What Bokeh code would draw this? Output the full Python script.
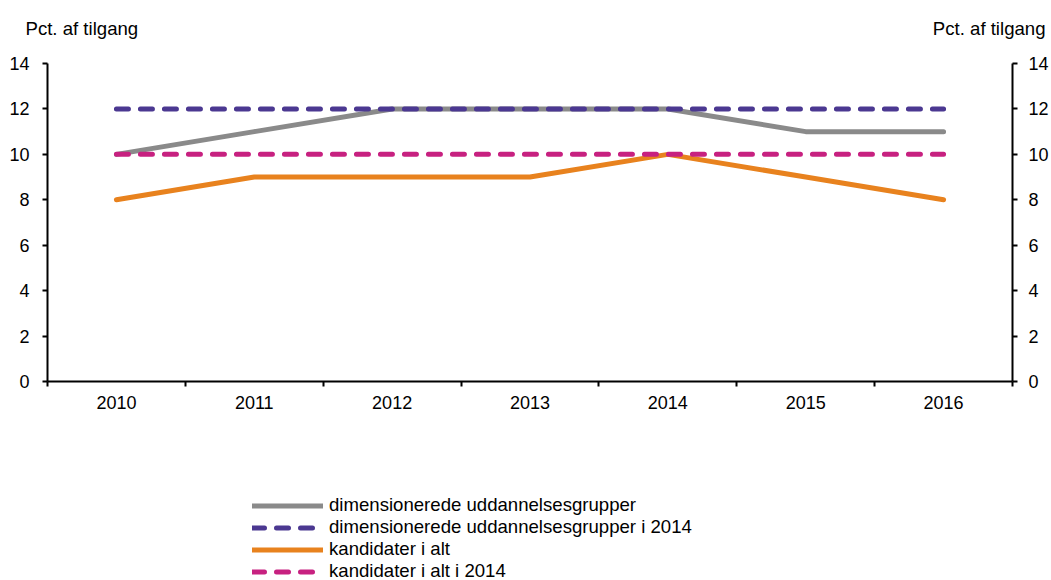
from bokeh.plotting import figure
from bokeh.layouts import column
from bokeh.models import (Range1d, LinearAxis, FixedTicker, Legend, LegendItem, Label)
from bokeh.embed import file_html
from bokeh.resources import INLINE

years = [2010, 2011, 2012, 2013, 2014, 2015, 2016]
year_labels = ["2010", "2011", "2012", "2013", "2014", "2015", "2016"]
dim_groups = [10, 11, 12, 12, 12, 11, 11]
dim_groups_2014 = [12, 12, 12, 12, 12, 12, 12]
cand_total = [8, 9, 9, 9, 10, 9, 8]
cand_total_2014 = [10, 10, 10, 10, 10, 10, 10]
y_ticks = [0, 2, 4, 6, 8, 10, 12, 14]
y_title = "Pct. af tilgang"
series_names = ["dimensionerede uddannelsesgrupper",
                "dimensionerede uddannelsesgrupper i 2014",
                "kandidater i alt",
                "kandidater i alt i 2014"]

FONT = "Liberation Sans"
FS = "18px"
FS_LEG = "18.6px"
W = 1051
HEAD_H = 50
MAIN_H = 375
LEG_H = 155

# header with the two axis titles
head = figure(width=W, height=HEAD_H, output_backend="svg", toolbar_location=None,
              x_range=Range1d(0, W), y_range=Range1d(0, HEAD_H),
              x_axis_type=None, y_axis_type=None, min_border=0,
              outline_line_color=None, frame_align=False)
head.grid.visible = False
head.add_layout(Label(x=25, y=HEAD_H - 28, text=y_title, text_align="left",
                      text_baseline="middle", text_font=FONT, text_font_size=FS_LEG,
                      text_color="black"))
head.add_layout(Label(x=1045, y=HEAD_H - 28, text=y_title, text_align="right",
                      text_baseline="middle", text_font=FONT, text_font_size=FS_LEG,
                      text_color="black"))

p = figure(width=W, height=MAIN_H, output_backend="svg", toolbar_location=None,
           x_range=Range1d(2009.5, 2016.5), y_range=Range1d(0, 14),
           min_border_left=47, min_border_right=36, min_border_top=63 - HEAD_H,
           min_border_bottom=HEAD_H + MAIN_H - 381, outline_line_color=None,
           frame_align=False)
p.grid.visible = False

# x axis
xa = p.xaxis[0]
xa.ticker = FixedTicker(ticks=years, minor_ticks=[y - 0.5 for y in years] + [years[-1] + 0.5])
xa.major_label_overrides = {y: l for y, l in zip(years, year_labels)}
xa.major_tick_out = 0
xa.major_tick_in = 0
xa.minor_tick_out = 5
xa.minor_tick_in = 0
xa.minor_tick_line_width = 2
xa.minor_tick_line_color = "black"
xa.axis_line_width = 2
xa.axis_line_color = "black"
xa.major_label_standoff = 9
xa.major_label_text_font = FONT
xa.major_label_text_font_size = FS
xa.major_label_text_color = "black"

# left y axis
ya = p.yaxis[0]
ya.ticker = FixedTicker(ticks=y_ticks, minor_ticks=[])
ya.major_tick_out = 5
ya.major_tick_in = 0
ya.major_tick_line_width = 2
ya.axis_line_width = 2
ya.axis_line_color = "black"
ya.major_tick_line_color = "black"
ya.major_label_standoff = 13
ya.major_label_text_font = FONT
ya.major_label_text_font_size = FS
ya.major_label_text_color = "black"

# right y axis
ra = LinearAxis(ticker=FixedTicker(ticks=y_ticks, minor_ticks=[]))
ra.major_tick_out = 5
ra.major_tick_in = 0
ra.major_tick_line_width = 2
ra.axis_line_width = 2
ra.axis_line_color = "black"
ra.major_tick_line_color = "black"
ra.major_label_standoff = 11
ra.major_label_text_font = FONT
ra.major_label_text_font_size = FS
ra.major_label_text_color = "black"
p.add_layout(ra, "right")

colors = ["#8a8a8a", "#4b3891", "#e8821e", "#c72180"]
data = [dim_groups, dim_groups_2014, cand_total, cand_total_2014]
dashes = ["solid", "12 12", "solid", "12 12"]
order = [0, 2, 1, 3]
for i in order:
    p.line(years, data[i], line_color=colors[i], line_width=5,
           line_dash=dashes[i], line_cap="round", line_join="round")

# legend panel below (legend glyphs come from the same series, drawn out of view)
leg = figure(width=W, height=LEG_H, output_backend="svg", toolbar_location=None,
             x_range=Range1d(0, 1), y_range=Range1d(0, 1),
             x_axis_type=None, y_axis_type=None, min_border=0,
             outline_line_color=None, frame_align=False)
leg.grid.visible = False
proxies = [leg.line(years, data[i], line_color=colors[i], line_width=5,
                    line_dash=dashes[i], line_cap="round") for i in range(4)]
items = [LegendItem(label=series_names[i], renderers=[proxies[i]]) for i in range(4)]
legend = Legend(items=items, location=(252, -2), orientation="vertical",
                glyph_width=71, glyph_height=21, label_height=21, label_standoff=6,
                spacing=0, padding=0, margin=0, border_line_alpha=0,
                background_fill_alpha=0, label_text_font=FONT,
                label_text_font_size=FS_LEG, label_text_color="black")
leg.add_layout(legend, "center")

layout = column(head, p, leg, spacing=0)
open("out.html", "w").write(file_html(layout, INLINE))
